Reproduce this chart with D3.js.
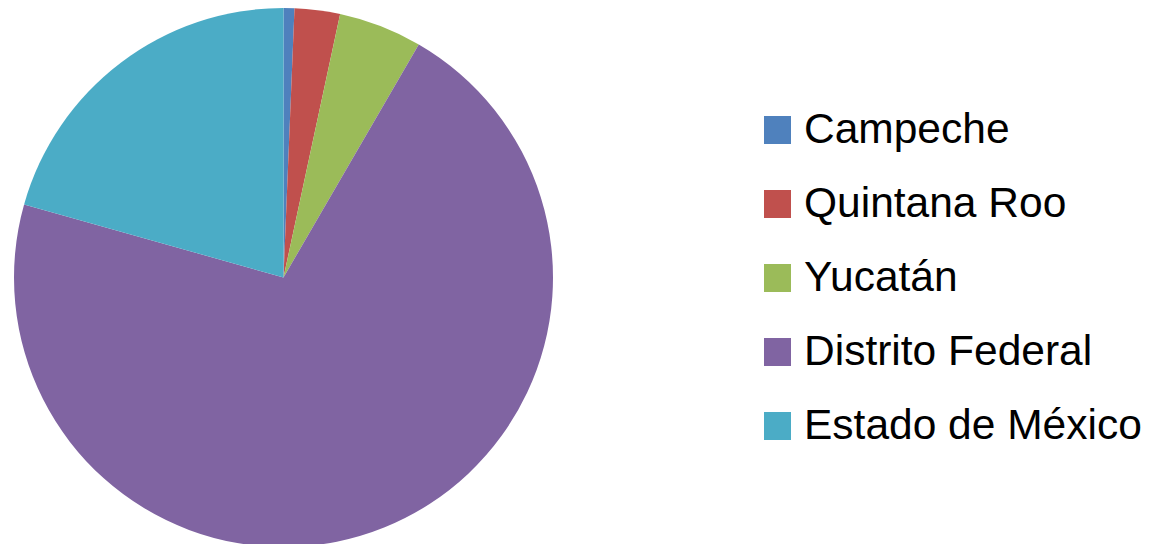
<!DOCTYPE html>
<html><head><meta charset="utf-8">
<script src="https://cdn.jsdelivr.net/npm/d3@7"></script>
<style>html,body{margin:0;padding:0;background:#fff;}</style>
</head><body>
<svg id="c" width="1155" height="544"></svg>
<script>
const categories = ["Campeche", "Quintana Roo", "Yucatán", "Distrito Federal", "Estado de México"];
const values = [0.65, 2.72, 5.0, 71.0, 20.63];
const colors = ["#4F81BD", "#C0504D", "#9BBB59", "#8064A2", "#4BACC6"];

const svg = d3.select("#c");
const cx = 283.5, cy = 277.5, r = 269.5;
const color = d3.scaleOrdinal().domain(categories).range(colors);
const pie = d3.pie().sort(null).value(d => d.v);
const arc = d3.arc().innerRadius(0).outerRadius(r);
const data = categories.map((c, i) => ({c, v: values[i]}));

svg.append("g").attr("transform", `translate(${cx},${cy})`)
  .selectAll("path").data(pie(data)).join("path")
  .attr("d", arc).attr("fill", d => color(d.data.c));

const y = d3.scalePoint().domain(categories).range([130, 426]);
const lg = svg.append("g");
const row = lg.selectAll("g").data(categories).join("g")
  .attr("transform", d => `translate(764,${y(d)})`);
row.append("rect").attr("x", 0).attr("y", -14).attr("width", 27).attr("height", 28)
  .attr("fill", d => color(d));
row.append("text").attr("x", 40).attr("y", 13)
  .attr("font-family", "Liberation Sans, Arial, sans-serif").attr("font-size", 42.5)
  .attr("fill", "#000").text(d => d);
</script>
</body></html>
